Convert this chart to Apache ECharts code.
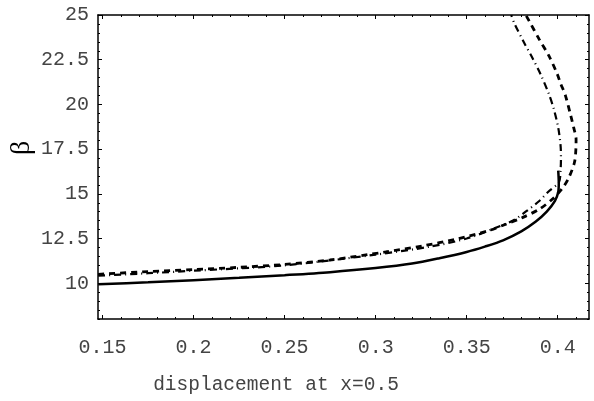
<!DOCTYPE html>
<html>
<head>
<meta charset="utf-8">
<script src="https://cdn.jsdelivr.net/npm/echarts@6/dist/echarts.min.js"></script>
<style>
  html, body { margin: 0; padding: 0; background: #fff; }
  #chart { width: 594px; height: 401px; }
</style>
</head>
<body>
<div id="chart"></div>
<script>
// tick labels
const xMajorTicks = [0.15, 0.2, 0.25, 0.3, 0.35, 0.4]
const yMajorTicks = [10, 12.5, 15, 17.5, 20, 22.5, 25]

// solid curve [displacement, beta]
const solidCurve = [
  [0.1476, 9.95], [0.175, 10.05], [0.2, 10.17], [0.225, 10.3], [0.25, 10.45],
  [0.275, 10.62], [0.3, 10.85], [0.32, 11.1], [0.335, 11.4], [0.35, 11.75],
  [0.36, 12.05], [0.37, 12.4], [0.38, 12.9], [0.388, 13.45], [0.394, 14.0],
  [0.3985, 14.6], [0.4003, 15.1], [0.4006, 15.6], [0.4003, 16.3]
]

// dashed curve
const dashedCurve = [
  [0.1476, 10.5], [0.175, 10.65], [0.2, 10.77], [0.2233, 10.88], [0.25, 11.05],
  [0.275, 11.3], [0.3055, 11.75], [0.3258, 12.09], [0.3441, 12.46], [0.3623, 12.95],
  [0.3715, 13.3], [0.3806, 13.67], [0.3899, 14.14], [0.397, 14.7], [0.4025, 15.3],
  [0.4061, 15.9], [0.4092, 16.75], [0.41, 17.5], [0.4101, 18.05], [0.4088, 18.7],
  [0.4072, 19.36], [0.4043, 20.48], [0.4015, 21.2], [0.3998, 21.69], [0.3952, 22.71],
  [0.3898, 23.65], [0.3843, 24.67], [0.3825, 25.0]
]

// dash-dot curve
const dashDotCurve = [
  [0.1476, 10.42], [0.175, 10.56], [0.2, 10.7], [0.25, 11.0], [0.3, 11.6],
  [0.33, 12.05], [0.35, 12.5], [0.366, 13.1], [0.376, 13.54], [0.3824, 14.0],
  [0.3899, 14.6], [0.3953, 15.16], [0.4007, 15.65], [0.4016, 16.38], [0.4018, 17.0],
  [0.4016, 17.68], [0.4003, 18.7], [0.3979, 19.73], [0.3952, 20.57], [0.3906, 21.69],
  [0.386, 22.62], [0.3815, 23.46], [0.376, 24.58], [0.3745, 25.0]
]

const xMin = 0.1475, xMax = 0.4172
const yMin = 8, yMax = 25

// minor tick positions
const xMinorTicks = []
for (let i = 15; i <= 41; i++) xMinorTicks.push(i / 100)
const yMinorTicks = []
for (let i = 16; i <= 50; i++) yMinorTicks.push(i / 2)

const frameLine = { show: true, onZero: false, lineStyle: { color: '#000', width: 1.5 } }
const tickFont = { fontFamily: 'Liberation Mono', fontSize: 20, color: '#444' }

function xAxisPair(position, withLabels) {
  return [
    {
      type: 'value', position: position, min: xMin, max: xMax,
      axisLine: frameLine,
      axisTick: { customValues: xMinorTicks, inside: true, length: 2, lineStyle: { color: '#000', width: 1 } },
      axisLabel: withLabels
        ? Object.assign({ customValues: xMajorTicks, margin: 19, formatter: v => String(+v.toFixed(2)) }, tickFont)
        : { show: false },
      splitLine: { show: false }
    },
    {
      type: 'value', position: position, min: xMin, max: xMax,
      axisLine: { show: false },
      axisTick: { customValues: xMajorTicks, inside: true, length: 4, lineStyle: { color: '#000', width: 1 } },
      axisLabel: { show: false },
      splitLine: { show: false }
    }
  ]
}

function yAxisPair(position, withLabels) {
  return [
    {
      type: 'value', position: position, min: yMin, max: yMax,
      axisLine: frameLine,
      axisTick: { customValues: yMinorTicks, inside: true, length: 2, lineStyle: { color: '#000', width: 1 } },
      axisLabel: withLabels
        ? Object.assign({ customValues: yMajorTicks, margin: 9, formatter: v => String(+v.toFixed(1)) }, tickFont)
        : { show: false },
      splitLine: { show: false }
    },
    {
      type: 'value', position: position, min: yMin, max: yMax,
      axisLine: { show: false },
      axisTick: { customValues: yMajorTicks, inside: true, length: 4, lineStyle: { color: '#000', width: 1 } },
      axisLabel: { show: false },
      splitLine: { show: false }
    }
  ]
}

const chart = echarts.init(document.getElementById('chart'), null, { renderer: 'canvas' })

chart.setOption({
  animation: false,
  backgroundColor: '#fff',
  grid: { left: 98, right: 5, top: 15, bottom: 82, outerBoundsMode: 'none' },
  xAxis: xAxisPair('bottom', true).concat(xAxisPair('top', false)),
  yAxis: yAxisPair('left', true).concat(yAxisPair('right', false)),
  graphic: [
    {
      type: 'text', x: 22, y: 148, rotation: Math.PI / 2,
      style: { text: 'β', font: '28px "Liberation Serif"', fill: '#000', align: 'center', verticalAlign: 'middle' }
    },
    {
      type: 'text', x: 276, y: 385,
      style: { text: 'displacement at x=0.5', font: '19.5px "Liberation Mono"', fill: '#444', align: 'center', verticalAlign: 'middle' }
    }
  ],
  series: [
    {
      name: 'solid', type: 'line', data: solidCurve, xAxisIndex: 0, yAxisIndex: 0,
      symbol: 'none', smooth: 0.3, clip: true,
      lineStyle: { color: '#000', width: 2.5, type: 'solid' }
    },
    {
      name: 'dashed', type: 'line', data: dashedCurve, xAxisIndex: 0, yAxisIndex: 0,
      symbol: 'none', smooth: 0.3, clip: true,
      lineStyle: { color: '#000', width: 2.8, type: [6, 5] }
    },
    {
      name: 'dashdot', type: 'line', data: dashDotCurve, xAxisIndex: 0, yAxisIndex: 0,
      symbol: 'none', smooth: 0.3, clip: true,
      lineStyle: { color: '#000', width: 2.2, type: [7, 4, 1, 4] }
    }
  ]
})
</script>
</body>
</html>
